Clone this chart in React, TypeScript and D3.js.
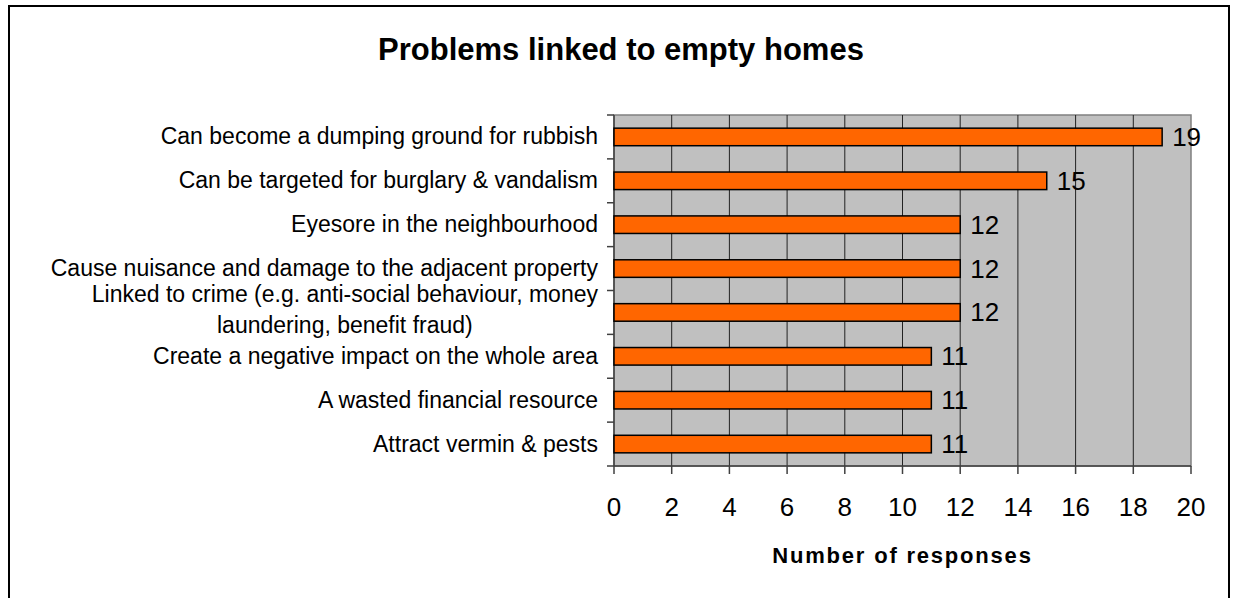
import React, { useEffect, useRef } from "react";
import * as d3 from "d3";

const titleText = "Problems linked to empty homes";
const axisTitle = "Number of responses";
const categories: string[][] = [
  ["Can become a dumping ground for rubbish"],
  ["Can be targeted for burglary & vandalism"],
  ["Eyesore in the neighbourhood"],
  ["Cause nuisance and damage to the adjacent property"],
  ["Linked to crime (e.g. anti-social behaviour, money", "laundering, benefit fraud)"],
  ["Create a negative impact on the whole area"],
  ["A wasted financial resource"],
  ["Attract vermin & pests"],
];
const values = [19, 15, 12, 12, 12, 11, 11, 11];
const xTicks = [0, 2, 4, 6, 8, 10, 12, 14, 16, 18, 20];

const W = 1234;
const H = 598;
const FONT = "'Liberation Sans', Arial, sans-serif";

export default function App() {
  const ref = useRef<SVGSVGElement>(null);

  useEffect(() => {
    const svg = d3.select(ref.current);
    svg.selectAll("*").remove();

    const left = 614, right = 1191, top = 115, bottom = 466;
    const idx = categories.map((_, i) => String(i));
    const x = d3.scaleLinear().domain([0, 20]).range([left, right]);
    const y = d3.scaleBand().domain(idx).range([top, bottom]).paddingInner(0.6).paddingOuter(0.3);
    const step = y.step();

    // outer frame
    svg.append("rect").attr("x", 9).attr("y", 6).attr("width", 1220).attr("height", 620)
      .attr("fill", "#fff").attr("stroke", "#000").attr("stroke-width", 2);

    // title
    svg.append("text").attr("x", 621).attr("y", 60).attr("text-anchor", "middle")
      .attr("font-family", FONT).attr("font-weight", "bold").attr("font-size", 31)
      .attr("fill", "#000").text(titleText);

    // plot area
    svg.append("rect").attr("x", left).attr("y", top).attr("width", right - left).attr("height", bottom - top)
      .attr("fill", "#c0c0c0").attr("stroke", "#808080").attr("stroke-width", 1.5);

    // gridlines
    svg.append("g").selectAll("line").data(xTicks.filter(t => t > 0 && t < 20)).join("line")
      .attr("x1", d => x(d)).attr("x2", d => x(d)).attr("y1", top).attr("y2", bottom)
      .attr("stroke", "#222").attr("stroke-width", 1);

    // axes lines
    svg.append("line").attr("x1", left).attr("x2", left).attr("y1", top).attr("y2", bottom)
      .attr("stroke", "#404040").attr("stroke-width", 1.5);
    svg.append("line").attr("x1", left).attr("x2", right).attr("y1", bottom).attr("y2", bottom)
      .attr("stroke", "#404040").attr("stroke-width", 1.5);

    // y ticks at band boundaries
    const yb = idx.map(d => (y(d) as number) - step * 0.3).concat([bottom]);
    svg.append("g").selectAll("line").data(yb).join("line")
      .attr("x1", left - 7).attr("x2", left).attr("y1", d => d).attr("y2", d => d)
      .attr("stroke", "#404040").attr("stroke-width", 1.5);

    // x ticks
    svg.append("g").selectAll("line").data(xTicks).join("line")
      .attr("x1", d => x(d)).attr("x2", d => x(d)).attr("y1", bottom).attr("y2", bottom + 8)
      .attr("stroke", "#404040").attr("stroke-width", 1.5);

    svg.append("g").selectAll("text").data(xTicks).join("text")
      .attr("x", d => x(d)).attr("y", 516).attr("text-anchor", "middle")
      .attr("font-family", FONT).attr("font-size", 26).attr("fill", "#000")
      .text(d => String(d));

    // bars
    svg.append("g").selectAll("rect").data(values).join("rect")
      .attr("x", x(0)).attr("y", (_, i) => y(String(i)) as number)
      .attr("width", d => x(d) - x(0)).attr("height", y.bandwidth())
      .attr("fill", "#ff6600").attr("stroke", "#000").attr("stroke-width", 1.5);

    // data labels
    svg.append("g").selectAll("text").data(values).join("text")
      .attr("x", d => x(d) + 10).attr("y", (_, i) => (y(String(i)) as number) + y.bandwidth() / 2 + 9)
      .attr("font-family", FONT).attr("font-size", 26).attr("fill", "#000")
      .text(d => String(d));

    // category labels
    const labelRight = 598;
    const fs = 23;
    categories.forEach((lines, i) => {
      const cy = (y(String(i)) as number) + y.bandwidth() / 2;
      if (lines.length === 1) {
        svg.append("text").attr("x", labelRight).attr("y", cy + 7.5).attr("text-anchor", "end")
          .attr("font-family", FONT).attr("font-size", fs).attr("fill", "#000").text(lines[0]);
      } else {
        const lineGap = 31;
        const g = svg.append("g");
        const texts = lines.map((ln, j) =>
          g.append("text").attr("y", cy + 7.5 - ((lines.length - 1) * lineGap) / 2 + j * lineGap - 2)
            .attr("text-anchor", "middle")
            .attr("font-family", FONT).attr("font-size", fs).attr("fill", "#000").text(ln)
        );
        const widths = texts.map(t => (t.node() as SVGTextElement).getComputedTextLength());
        const maxW = Math.max(...widths);
        texts.forEach(t => t.attr("x", labelRight - maxW / 2));
      }
    });

    // axis title
    svg.append("text").attr("x", (left + right) / 2).attr("y", 563).attr("text-anchor", "middle")
      .attr("font-family", FONT).attr("font-weight", "bold").attr("font-size", 22)
      .attr("letter-spacing", 1.8).attr("fill", "#000").text(axisTitle);
  }, []);

  return (
    <svg ref={ref} width={W} height={H}
      style={{ position: "absolute", left: 0, top: 0, display: "block", background: "#fff" }} />
  );
}
